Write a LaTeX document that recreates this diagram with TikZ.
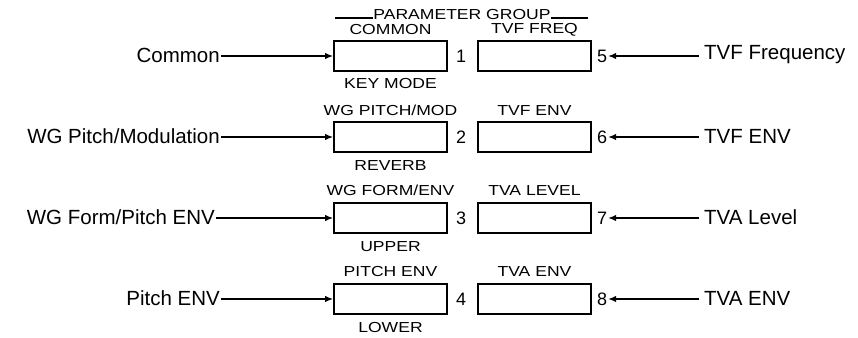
\documentclass[tikz,border=0pt]{standalone}
\usepackage{fontspec}
\setmainfont{Liberation Sans}
\newfontfamily\capsfont[FakeStretch=1.21]{Liberation Sans}
\usetikzlibrary{arrows.meta}
\begin{document}
\begin{tikzpicture}[x=1pt,y=-1pt,
  panelbox/.style={draw, line width=2pt, minimum width=113pt, minimum height=30pt, inner sep=0pt},
  biglabel/.style={font=\fontsize{20.5}{22}\selectfont, inner sep=1pt},
  caplabel/.style={font=\capsfont\fontsize{14.5}{16}\selectfont, inner sep=0pt},
  numlabel/.style={font=\fontsize{18}{20}\selectfont, inner sep=1pt},
  feed/.style={line width=1.2pt, -{Latex[length=8pt,width=6.5pt]}},
  rule/.style={line width=1.1pt}]
\useasboundingbox (0,0) rectangle (858,337);

% title
\node[caplabel, anchor=base] (title) at (462,19.5) {PARAMETER GROUP};
\coordinate (tl) at (335,18);
\coordinate (tr) at (588,18);
\draw[rule] (tl) -- (tl -| title.west);
\draw[rule] (tr) -- (tr -| title.east);

% left column boxes
\node[panelbox] (b1) at (390.5,56) {};
\node[panelbox] (b2) at (390.5,137) {};
\node[panelbox] (b3) at (390.5,218) {};
\node[panelbox] (b4) at (390.5,299) {};
% right column boxes
\node[panelbox] (b5) at (534.5,56) {};
\node[panelbox] (b6) at (534.5,137) {};
\node[panelbox] (b7) at (534.5,218) {};
\node[panelbox] (b8) at (534.5,299) {};

% labels above / below
\node[caplabel] (u1) at (390.5,29.5) {COMMON};
\node[caplabel] (d1) at (390.5,84) {KEY MODE};
\node[caplabel] (u2) at (390.5,110.5) {WG PITCH/MOD};
\node[caplabel] (d2) at (390.5,166) {REVERB};
\node[caplabel] (u3) at (390.5,190.5) {WG FORM/ENV};
\node[caplabel] (d3) at (390.5,247) {UPPER};
\node[caplabel] (u4) at (390.5,271.5) {PITCH ENV};
\node[caplabel] (d4) at (390.5,328) {LOWER};
\node[caplabel] (u5) at (534.5,29.5) {TVF FREQ};
\node[caplabel] (u6) at (534.5,110.5) {TVF ENV};
\node[caplabel] (u7) at (534.5,190.5) {TVA LEVEL};
\node[caplabel] (u8) at (534.5,271.5) {TVA ENV};

% numbers
\node[numlabel] (n1) at (461,56) {1};
\node[numlabel] (n2) at (461,137) {2};
\node[numlabel] (n3) at (461,218) {3};
\node[numlabel] (n4) at (461,299) {4};
\node[numlabel] (n5) at (602,56) {5};
\node[numlabel] (n6) at (602,137) {6};
\node[numlabel] (n7) at (602,218) {7};
\node[numlabel] (n8) at (602,299) {8};

% left inputs
\node[biglabel, anchor=east] (l1) at (221,55) {Common};
\node[biglabel, anchor=east] (l2) at (221,136) {WG Pitch/Modulation};
\node[biglabel, anchor=east] (l3) at (216,217) {WG Form/Pitch ENV};
\node[biglabel, anchor=east] (l4) at (221,298) {Pitch ENV};
\draw[feed] (l1.east |- b1.west) -- (b1.west);
\draw[feed] (l2.east |- b2.west) -- (b2.west);
\draw[feed] (l3.east |- b3.west) -- (b3.west);
\draw[feed] (l4.east |- b4.west) -- (b4.west);

% right inputs
\node[biglabel, anchor=west] (r5) at (703,55) {TVF Frequency};
\node[biglabel, anchor=west] (r6) at (703,136) {TVF ENV};
\node[biglabel, anchor=west] (r7) at (703,217) {TVA Level};
\node[biglabel, anchor=west] (r8) at (703,298) {TVA ENV};
\draw[feed] ([xshift=-4pt]r5.west |- b5.east) -- (n5.east |- b5.east);
\draw[feed] ([xshift=-4pt]r6.west |- b6.east) -- (n6.east |- b6.east);
\draw[feed] ([xshift=-4pt]r7.west |- b7.east) -- (n7.east |- b7.east);
\draw[feed] ([xshift=-4pt]r8.west |- b8.east) -- (n8.east |- b8.east);
\end{tikzpicture}
\end{document}
